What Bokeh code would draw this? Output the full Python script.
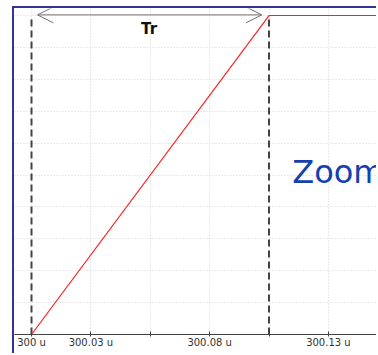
from bokeh.plotting import figure
from bokeh.models import FixedTicker, Range1d, Arrow, OpenHead, Label
from bokeh.embed import file_html
from bokeh.resources import INLINE

# data (time in microseconds, normalized level)
t = [299.9928, 300.0, 300.1, 300.2]
v = [0.0, 0.0, 1.0, 1.0]
t_start, t_end = 300.0, 300.1
x_ticks = [300.0, 300.025, 300.05, 300.075, 300.1, 300.125]
x_tick_labels = ["300 u", "300.03 u", "", "300.08 u", "", "300.13 u"]
y_grid = [0.1, 0.2, 0.3, 0.4, 0.5, 0.6, 0.7, 0.8, 0.9, 1.0]

p = figure(width=364, height=347, output_backend="svg", toolbar_location=None,
           x_range=Range1d(299.99284, 300.1461), y_range=Range1d(0, 1.022),
           min_border_left=0, min_border_right=0, min_border_top=0, min_border_bottom=21)
p.styles = {"margin-left": "12px", "margin-top": "6px", "margin-bottom": "-20px",
            "border-left": "2px solid #33339a", "border-top": "2px solid #33339a"}
p.outline_line_color = None
p.background_fill_color = "white"
p.border_fill_color = "white"

p.yaxis.visible = False
p.ygrid.ticker = FixedTicker(ticks=y_grid)
p.xaxis.ticker = FixedTicker(ticks=x_ticks)
p.xaxis.major_label_overrides = {k: s for k, s in zip(x_ticks, x_tick_labels)}
p.xaxis.minor_tick_line_color = None
p.xaxis.major_tick_in = 3
p.xaxis.major_tick_out = 2
p.xaxis.major_label_standoff = 0
p.xaxis.axis_line_color = "#444444"
p.xaxis.major_tick_line_color = "#444444"
p.xaxis.major_label_text_font = "DejaVu Sans"
p.xaxis.major_label_text_font_size = "10px"
p.xaxis.major_label_text_color = "#333333"

for g in (p.xgrid, p.ygrid):
    g.grid_line_color = "#d4d4d4"
    g.grid_line_dash = "1 2"
    g.grid_line_width = 1

# dashed markers
p.segment(x0=[t_start, t_end], y0=[0, 0], x1=[t_start, t_end], y1=[1, 1],
          line_color="#444444", line_width=2, line_dash="7 4")

# signal
p.line(t, v, line_color="#ff2020", line_width=1.2)

# Tr arrow
p.add_layout(Arrow(start=OpenHead(size=16, line_color="#707070", line_width=1),
                   end=OpenHead(size=16, line_color="#707070", line_width=1),
                   x_start=t_start + 0.0025, y_start=1.002,
                   x_end=t_end - 0.003, y_end=1.002,
                   line_color="#707070", line_width=1))

p.add_layout(Label(x=(t_start + t_end) / 2 - 0.0005, y=0.93, text="Tr",
                   text_font="DejaVu Sans", text_font_style="bold",
                   text_font_size="15px", text_color="#111111",
                   text_align="center", text_baseline="bottom"))

p.add_layout(Label(x=300.1098, y=0.508, text="Zoom",
                   text_font="DejaVu Sans", text_font_size="32px",
                   text_color="#1540b0", text_baseline="alphabetic"))

p.add_layout(Label(x=300.0925, y=-0.044, text="t/s",
                   text_font="DejaVu Sans", text_font_size="9px",
                   text_color="#333333", text_align="center", text_baseline="middle"))

open("out.html", "w").write(file_html(p, INLINE))
